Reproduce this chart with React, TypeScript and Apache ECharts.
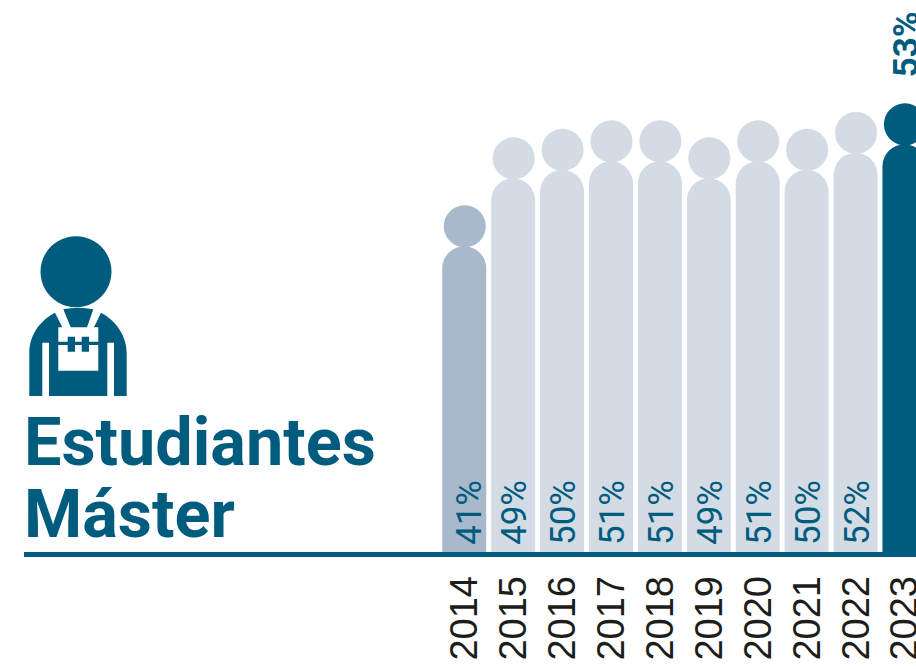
import React, { useEffect, useRef } from "react";
import * as echarts from "echarts";

const years = ["2014", "2015", "2016", "2017", "2018", "2019", "2020", "2021", "2022", "2023"];
const shares = [41, 49, 50, 51, 51, 49, 51, 50, 52, 53];
const titleLines = ["Estudiantes", "Máster"];

const DARK = "#005c7e";
const LIGHT = "#d3dbe5";
const MID = "#a7b9cb";
const colorOf = (i: number) => (i === 0 ? MID : i === years.length - 1 ? DARK : LIGHT);

const workerPath =
  "M55,312.7 L62.3,327.3 L58.3,327.3 L58.3,370.7 L98.3,370.7 L98.3,327.3 L94,327.3 L101,312.7 " +
  "C115,320 126.7,335 126.7,353 L126.7,396 L114,396 L114,342.7 L107.3,342.7 L107.3,396 L49,396 " +
  "L49,342.7 L42.3,342.7 L42.3,396 L29.3,396 L29.3,353 C29.3,335 40,320.5 55,312.7 Z " +
  "M63.3,309.3 Q78,306 93.3,309.3 L87,327.3 L70.7,327.3 Z " +
  "M58.3,341.7 L67.7,341.7 L67.7,336.7 L75,336.7 L75,341.7 L81.7,341.7 L81.7,336.7 L89,336.7 L89,341.7 L98.3,341.7 " +
  "L98.3,345 L89,345 L89,351.7 L81.7,351.7 L81.7,345 L75,345 L75,351.7 L67.7,351.7 L67.7,345 L58.3,345 Z";

echarts.graphic.registerShape("worker", echarts.graphic.extendPath(workerPath, {}));

export default function App() {
  const ref = useRef<HTMLDivElement>(null);
  useEffect(() => {
    document.body.style.margin = "0";
    const chart = echarts.init(ref.current!, null, { renderer: "svg" });
    chart.setOption({
      animation: false,
      backgroundColor: "#ffffff",
      grid: {
        left: 439.8,
        top: 0,
        right: -12.9,
        bottom: 117,
        containLabel: false,
        outerBoundsMode: "none",
      },
      xAxis: {
        type: "category",
        data: years,
        axisLine: { show: false },
        axisTick: { show: false },
        axisLabel: {
          interval: 0,
          rotate: 90,
          margin: 24,
          color: "#1d1d1b",
          fontFamily: "Liberation Sans",
          fontSize: 38,
          hideOverlap: false,
        },
      },
      yAxis: { type: "value", min: 5, max: 70, show: false },
      series: [
        {
          type: "bar",
          barWidth: 44,
          data: shares.map((v, i) => ({
            value: v,
            itemStyle: { color: colorOf(i), borderRadius: [22, 22, 0, 0] },
            label: {
              show: i !== years.length - 1,
              formatter: `${v}%`,
              position: "insideBottom",
              distance: 7,
              offset: [0, i === 0 ? 5 : 1.5],
              rotate: 90,
              align: "left",
              verticalAlign: "middle",
              color: DARK,
              fontFamily: "Roboto",
              fontWeight: 400,
              fontSize: 35,
            },
          })),
        },
        {
          type: "scatter",
          symbol: "circle",
          symbolSize: 42,
          symbolOffset: [0.5, -20],
          z: 3,
          data: shares.map((v, i) => ({
            value: v,
            itemStyle: { color: colorOf(i), opacity: 1 },
            label: {
              show: i === years.length - 1,
              formatter: `${v}%`,
              position: "top",
              distance: 26,
              offset: [0, 2],
              rotate: 90,
              align: "left",
              verticalAlign: "middle",
              color: DARK,
              fontFamily: "Roboto",
              fontWeight: 700,
              fontSize: 35,
            },
          })),
        },
      ],
      graphic: [
        { type: "rect", shape: { x: 24, y: 552, width: 892, height: 5 }, style: { fill: DARK }, z: 5 },
        { type: "circle", shape: { cx: 76, cy: 271.7, r: 35.5 }, style: { fill: DARK } },
        { type: "worker", x: 0, y: 0, style: { fill: DARK } },
        ...titleLines.map((t, i) => ({
          type: "text",
          x: 24,
          y: 408 + i * 72,
          style: {
            text: t,
            fill: DARK,
            font: "700 66.5px Roboto",
            textAlign: "left",
          },
        })),
      ],
    });
    return () => chart.dispose();
  }, []);
  return <div ref={ref} style={{ width: 916, height: 669 }} />;
}
